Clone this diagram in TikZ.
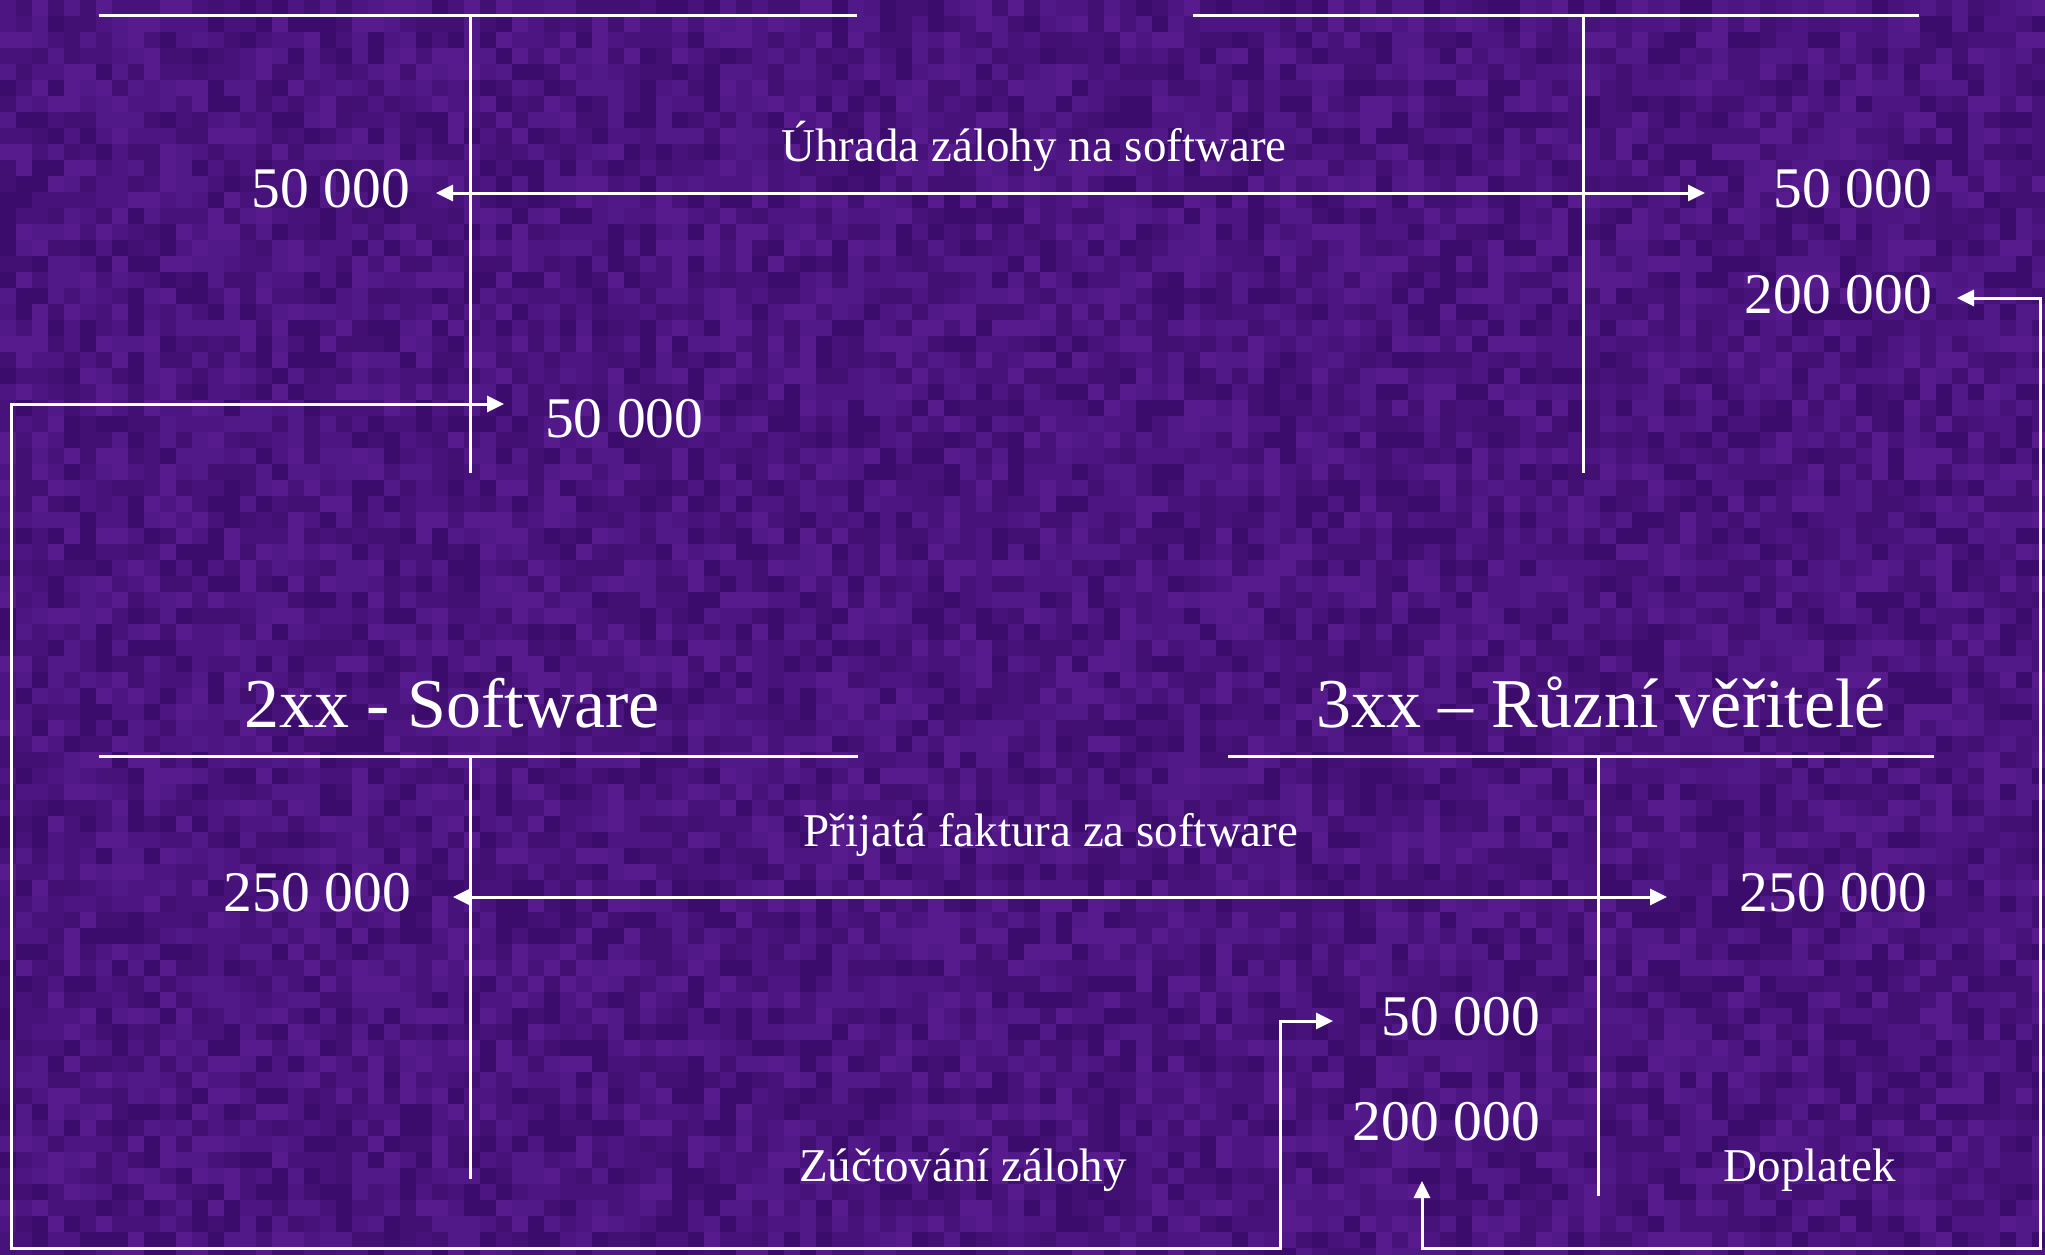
\documentclass[tikz,border=0pt]{standalone}
\usepackage{fontspec}
\setmainfont{Liberation Serif}
\usetikzlibrary{arrows.meta}
\definecolor{bgpurple}{RGB}{72,18,124}
\definecolor{bgc0}{RGB}{60,12,108}
\definecolor{bgc1}{RGB}{66,15,115}
\definecolor{bgc2}{RGB}{71,18,122}
\definecolor{bgc3}{RGB}{76,21,129}
\definecolor{bgc4}{RGB}{81,24,135}
\definecolor{bgc5}{RGB}{87,27,142}
\begin{document}
\begin{tikzpicture}[x=1pt,y=-1pt,
  acct/.style={draw=white, line width=3pt},
  conn/.style={draw=white, line width=3pt},
  tips/.style={{Triangle[length=17pt,width=16pt]}-{Triangle[length=17pt,width=16pt]}},
  num/.style={text=white, inner sep=0pt, font=\fontsize{57.5}{60}\selectfont},
  lbl/.style={text=white, inner sep=0pt, font=\fontsize{47}{50}\selectfont},
  ttl/.style={text=white, inner sep=0pt, font=\fontsize{70}{74}\selectfont}]
\useasboundingbox (0,0) rectangle (2045,1255);
\begin{scope}
\clip (0,0) rectangle (2045,1255);
\fill[bgpurple] (0,0) rectangle (2045,1255);
\pgfmathsetseed{11}
\foreach \i in {0,...,127} {
  \foreach \j in {0,...,78} {
    \pgfmathsetmacro{\m}{int(random(0,5))}
    \fill[bgc\m] (16*\i,16*\j) rectangle ++(16,16);
  }
}
\end{scope}

% T-accounts
\draw[acct] (99,16) -- (857,16);
\draw[acct] (470,16) -- (470,473);
\draw[acct] (1193,16) -- (1919,16);
\draw[acct] (1583,16) -- (1583,473);
\draw[acct] (99,756) -- (858,756);
\draw[acct] (470,756) -- (470,1179);
\draw[acct] (1228,756) -- (1934,756);
\draw[acct] (1598,756) -- (1598,1196);

% titles
\node[ttl, anchor=base] (t1) at (452,727) {2xx - Software};
\node[ttl, anchor=base] (t2) at (1601,727) {3xx – Různí věřitelé};

% amounts
\node[num, anchor=base east] (n1) at (410,207) {50 000};
\node[num, anchor=base east] (n2) at (1932,207) {50 000};
\node[num, anchor=base east] (n3) at (1932,313) {200 000};
\node[num, anchor=base west] (n4) at (545,437) {50 000};
\node[num, anchor=base east] (n5) at (411,911) {250 000};
\node[num, anchor=base east] (n6) at (1927,911) {250 000};
\node[num, anchor=base east] (n7) at (1540,1035) {50 000};
\node[num, anchor=base east] (n8) at (1540,1140) {200 000};

% labels
\node[lbl, anchor=base] (l1) at (1034,161) {Úhrada zálohy na software};
\node[lbl, anchor=base] (l2) at (1051,846) {Přijatá faktura za software};
\node[lbl, anchor=base] (l3) at (963,1181) {Zúčtování zálohy};
\node[lbl, anchor=base] (l4) at (1810,1181) {Doplatek};

% connector points
\coordinate (a1l) at (436,193);
\coordinate (a1r) at (1705,193);
\coordinate (a4l) at (453,897);
\coordinate (a4r) at (1667,897);
\coordinate (z1) at (504,404);
\coordinate (z2) at (1333,1021);
\coordinate (d1) at (1957,298);
\coordinate (d2) at (1422,1181);

% connectors
\draw[conn, tips] (a1l) -- (a1r);
\draw[conn, tips] (a4l) -- (a4r);
\draw[conn, tips]
  (z1) -- (11,404) -- (11,1248) -- (1280,1248) -- (1280,1021) -- (z2);
\draw[conn, tips]
  (d1) -- (2040,298) -- (2040,1248) -- (1422,1248) -- (d2);
\end{tikzpicture}
\end{document}
